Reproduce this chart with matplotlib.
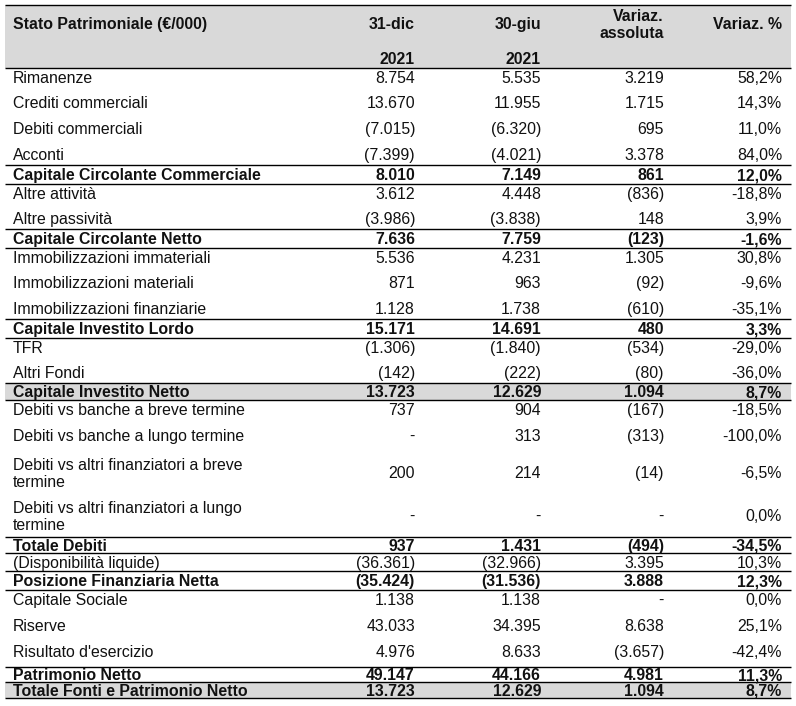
import matplotlib
matplotlib.use("Agg")
import matplotlib.pyplot as plt

# ---------------- data ----------------
labels = [
    "Rimanenze", "Crediti commerciali", "Debiti commerciali", "Acconti",
    "Capitale Circolante Commerciale", "Altre attività", "Altre passività",
    "Capitale Circolante Netto", "Immobilizzazioni immateriali",
    "Immobilizzazioni materiali", "Immobilizzazioni finanziarie",
    "Capitale Investito Lordo", "TFR", "Altri Fondi", "Capitale Investito Netto",
    "Debiti vs banche a breve termine", "Debiti vs banche a lungo termine",
    "Debiti vs altri finanziatori a breve\ntermine",
    "Debiti vs altri finanziatori a lungo\ntermine",
    "Totale Debiti", "(Disponibilità liquide)", "Posizione Finanziaria Netta",
    "Capitale Sociale", "Riserve", "Risultato d'esercizio", "Patrimonio Netto",
    "Totale Fonti e Patrimonio Netto",
]
dic_2021 = [8754, 13670, -7015, -7399, 8010, 3612, -3986, 7636, 5536, 871, 1128,
            15171, -1306, -142, 13723, 737, 0, 200, 0, 937, -36361, -35424,
            1138, 43033, 4976, 49147, 13723]
giu_2021 = [5535, 11955, -6320, -4021, 7149, 4448, -3838, 7759, 4231, 963, 1738,
            14691, -1840, -222, 12629, 904, 313, 214, 0, 1431, -32966, -31536,
            1138, 34395, 8633, 44166, 12629]
var_abs = [3219, 1715, 695, 3378, 861, -836, 148, -123, 1305, -92, -610,
           480, -534, -80, 1094, -167, -313, -14, 0, -494, 3395, 3888,
           0, 8638, -3657, 4981, 1094]
var_pct = [58.2, 14.3, 11.0, 84.0, 12.0, -18.8, 3.9, -1.6, 30.8, -9.6, -35.1,
           3.3, -29.0, -36.0, 8.7, -18.5, -100.0, -6.5, 0.0, -34.5, 10.3, 12.3,
           0.0, 25.1, -42.4, 11.3, 8.7]
header_title = "Stato Patrimoniale (€/000)"
col_headers = ["31-dic", "30-giu", "Variaz.\nassoluta", "Variaz. %"]
col_years = ["2021", "2021", "", ""]

bold_rows = {4, 7, 11, 14, 19, 21, 25, 26}
gray_rows = {14, 26}

# ---------------- layout ----------------
row_heights = [25, 26, 26, 20, 19, 25, 20, 19, 25, 26, 20, 19, 25, 20, 17,
               26, 26, 43, 42, 16, 18, 19, 26, 26, 25, 15, 16]
header_top, header_bottom = 5, 68
x_left, x_right = 5, 791
label_x = 13
col_right = [415, 541, 664, 782]
FS = 11.4
GRAY = "#d9d9d9"
TXT = "#111111"
CAP = 5.7  # half cap height in px


def fmt_num(v):
    if v == 0:
        return "-"
    s = f"{abs(v):,}".replace(",", ".")
    return f"({s})" if v < 0 else s


def fmt_pct(v):
    return f"{v:.1f}".replace(".", ",") + "%"


plt.rcParams["font.family"] = ["Liberation Sans", "DejaVu Sans"]
fig = plt.figure(figsize=(7.96, 7.06), dpi=100)
ax = fig.add_axes([0, 0, 1, 1])
ax.set_xlim(0, 796)
ax.set_ylim(706, 0)
ax.axis("off")


def put(x, yc, s, ha="left", bold=False):
    ax.text(x, yc + CAP, s, ha=ha, va="baseline", fontsize=FS,
            fontweight="bold" if bold else "normal", color=TXT)


# header
ax.fill_between([x_left, x_right], header_top, header_bottom, color=GRAY, lw=0)
put(label_x, 23, header_title, bold=True)
for j, (h, yr) in enumerate(zip(col_headers, col_years)):
    parts = h.split("\n")
    if len(parts) == 2:
        put(col_right[j], 15, parts[0], ha="right", bold=True)
        put(col_right[j], 32, parts[1], ha="right", bold=True)
    else:
        put(col_right[j], 23, h, ha="right", bold=True)
    if yr:
        put(col_right[j], 58, yr, ha="right", bold=True)
ax.hlines([header_top, header_bottom], x_left, x_right, color="black", lw=1.0)

# body
top = header_bottom
line_ys = []
for i, lab in enumerate(labels):
    h = row_heights[i]
    b = i in bold_rows
    if i in gray_rows:
        ax.fill_between([x_left, x_right], top, top + h, color=GRAY, lw=0)
    if b:
        line_ys += [top, top + h]
    vals = [fmt_num(dic_2021[i]), fmt_num(giu_2021[i]), fmt_num(var_abs[i]),
            fmt_pct(var_pct[i])]
    if "\n" in lab:
        l1, l2 = lab.split("\n")
        put(label_x, top + 12, l1)
        put(label_x, top + 29, l2)
        yc = top + 20.5
    else:
        yc = top + min(h / 2.0, 9.5)
        put(label_x, yc, lab, bold=b)
    for j, v in enumerate(vals):
        put(col_right[j], yc, v, ha="right", bold=b)
    top += h

ax.hlines(sorted(set(line_ys)), x_left, x_right, color="black", lw=1.0)

fig.savefig("out.png", dpi=100)
